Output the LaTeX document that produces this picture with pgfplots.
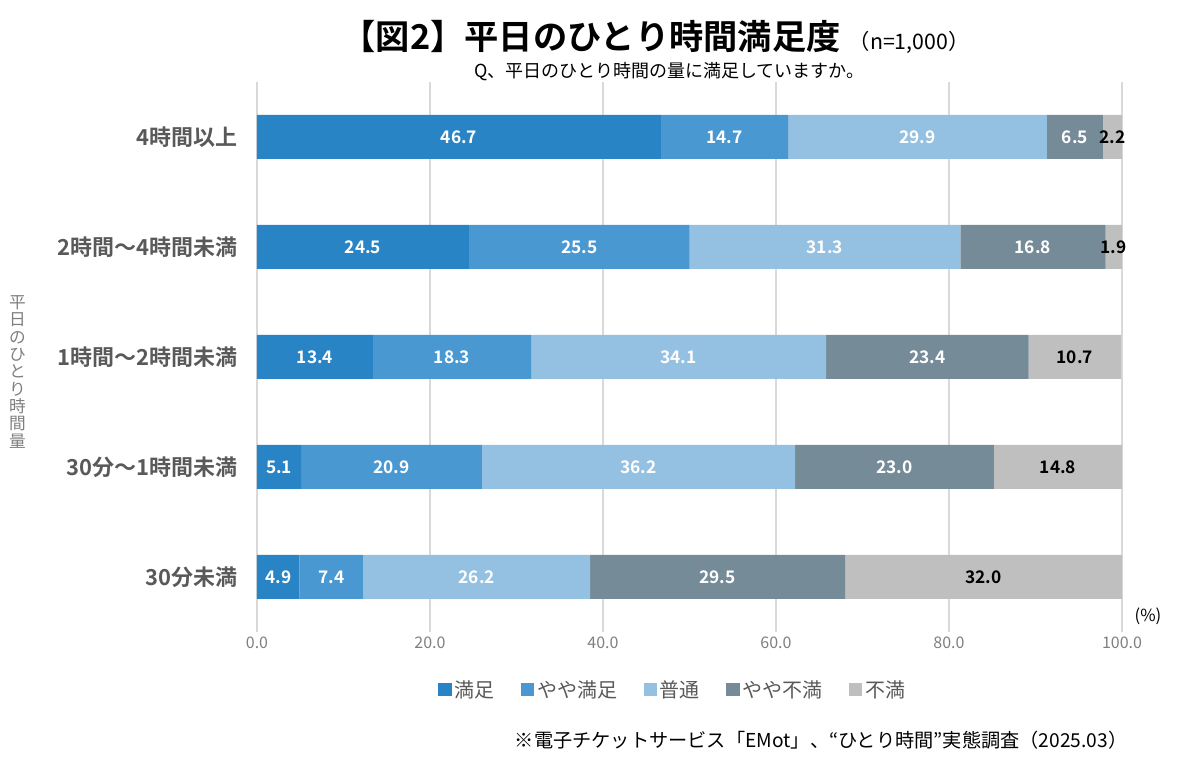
\documentclass[border=0pt]{standalone}
\usepackage{fontspec}
\setmainfont{Noto Sans CJK JP}[BoldFont={Noto Sans CJK JP Bold}]
\usepackage{pgfplots}
\pgfplotsset{compat=1.18}
\definecolor{c1}{RGB}{41,132,198}
\definecolor{c2}{RGB}{74,152,210}
\definecolor{c3}{RGB}{148,193,226}
\definecolor{c4}{RGB}{117,139,152}
\definecolor{c5}{RGB}{191,191,191}
\definecolor{tgray}{RGB}{89,89,89}
\definecolor{lgray}{RGB}{127,127,127}
\definecolor{gridc}{RGB}{217,217,217}
\begin{document}
\begin{tikzpicture}
\path[use as bounding box] (0pt,0pt) rectangle (900pt,573pt);
\begin{axis}[
  at={(192.75pt,99pt)}, anchor=south west,
  scale only axis, width=648.75pt, height=412.5pt,
  xbar stacked, bar width=33pt,
  xmin=0, xmax=100, ymin=-0.5, ymax=4.5,
  xtick={0,20,40,60,80,100},
  xticklabel style={font=\fontsize{12}{14}\selectfont, text=lgray},
  /pgf/number format/assume math mode=true,
  /pgf/number format/.cd, fixed, fixed zerofill, precision=1, /pgfplots/.cd,
  ytick={0,1,2,3,4},
  yticklabels={30分未満,30分～1時間未満,1時間～2時間未満,2時間～4時間未満,4時間以上},
  yticklabel style={font=\fontsize{16.5}{19}\selectfont\bfseries, text=tgray, xshift=-11pt},
  axis line style={draw=none},
  major tick length=0pt,
  xmajorgrids, grid style={gridc, line width=0.9pt},
  point meta=rawx,
  nodes near coords={\pgfmathprintnumber[fixed,fixed zerofill,precision=1,assume math mode=true]{\pgfplotspointmeta}},
  every node near coord/.append style={font=\fontsize{13}{15}\selectfont\bfseries, text=white, anchor=center},
  legend columns=5,
  legend style={at={(0.481,-0.105)}, anchor=center, draw=none, fill=none,
     font=\fontsize{15}{18}\selectfont, text=tgray,
     /tikz/every even column/.append style={column sep=18pt}},
  legend image code/.code={\fill[#1] (0pt,-5pt) rectangle (10pt,5pt);},
]
\addplot+[fill=c1, draw=none] coordinates {(4.9,0) (5.1,1) (13.4,2) (24.5,3) (46.7,4)};
\addplot+[fill=c2, draw=none] coordinates {(7.4,0) (20.9,1) (18.3,2) (25.5,3) (14.7,4)};
\addplot+[fill=c3, draw=none] coordinates {(26.2,0) (36.2,1) (34.1,2) (31.3,3) (29.9,4)};
\addplot+[fill=c4, draw=none] coordinates {(29.5,0) (23.0,1) (23.4,2) (16.8,3) (6.5,4)};
\addplot+[fill=c5, draw=none, nodes near coords style={text=black}] coordinates {(32.0,0) (14.8,1) (10.7,2) (1.9,3) (2.2,4)};
\legend{満足,やや満足,普通,やや不満,不満}
\end{axis}
% title
\node[anchor=base east, font=\fontsize{25.7}{30}\selectfont\bfseries, text=black] (t) at (634pt,536pt) {【図2】平日のひとり時間満足度};
\node[anchor=base west, font=\fontsize{16}{19}\selectfont, text=black] at ([xshift=-1pt]t.base east) {（n=1,000）};
\node[anchor=center, font=\fontsize{13.5}{16}\selectfont, text=black] at (502pt,519pt) {Q、平日のひとり時間の量に満足していますか。};
% y label
\node[anchor=center, align=center, font=\fontsize{12.5}{13}\selectfont, text=lgray] at (13pt,294pt) {平\\日\\の\\ひ\\と\\り\\時\\間\\量};
% percent
\node[anchor=center, font=\fontsize{12.5}{15}\selectfont, text=black] at (861pt,111pt) {(\%)};
% footnote
\node[anchor=east, font=\fontsize{14.4}{17}\selectfont, text=black] at (849pt,18pt) {※電子チケットサービス「EMot」、“ひとり時間”実態調査（2025.03）};
\end{tikzpicture}
\end{document}
